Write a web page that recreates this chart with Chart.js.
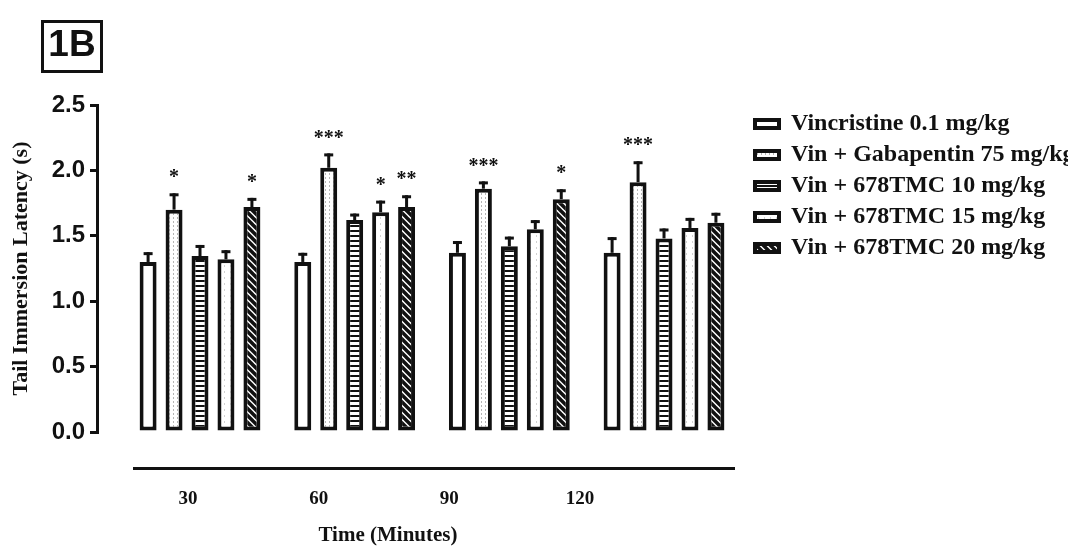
<!DOCTYPE html>
<html>
<head>
<meta charset="utf-8">
<script src="https://cdn.jsdelivr.net/npm/chart.js@4.4.1/dist/chart.umd.min.js"></script>
<style>
  html, body { margin: 0; padding: 0; background: #fff; }
  #wrap { position: relative; width: 1080px; height: 555px; }
  #panel {
    position: absolute; left: 41px; top: 20px; width: 56px; height: 47px;
    border: 3px solid #111; color: #111; text-align: center; line-height: 47px;
    font: bold 37px "Liberation Sans", Arial, sans-serif;
  }
  #xtitle {
    position: absolute; left: 288px; top: 522px; width: 200px; text-align: center;
    line-height: 24px; color: #111; font: bold 21px "Liberation Serif", serif;
  }
</style>
</head>
<body>
<div id="wrap">
  <canvas id="chart" width="1080" height="555"></canvas>
  <div id="panel">1B</div>
  <div id="xtitle">Time (Minutes)</div>
</div>
<script>
// time points (minutes) and their tick labels
const minutes = [30, 60, 90, 120];
const timeLabels = ['30', '60', '90', '120'];

const seriesNames = [
  'Vincristine 0.1 mg/kg',
  'Vin + Gabapentin 75 mg/kg',
  'Vin + 678TMC 10 mg/kg',
  'Vin + 678TMC 15 mg/kg',
  'Vin + 678TMC 20 mg/kg'
];

// mean latency (s)
const vincristine = [1.30, 1.30, 1.37, 1.37];
const gabapentin = [1.70, 2.02, 1.86, 1.91];
const tmc10 = [1.345, 1.62, 1.42, 1.48];
const tmc15 = [1.32, 1.68, 1.55, 1.56];
const tmc20 = [1.72, 1.72, 1.78, 1.60];

// SEM (upper error bar only)
const vincristineErr = [0.075, 0.07, 0.09, 0.12];
const gabapentinErr = [0.125, 0.11, 0.056, 0.16];
const tmc10Err = [0.085, 0.05, 0.074, 0.076];
const tmc15Err = [0.07, 0.089, 0.07, 0.077];
const tmc20Err = [0.07, 0.09, 0.076, 0.076];

// significance marks over the bars
const vincristineSig = ['', '', '', ''];
const gabapentinSig = ['*', '***', '***', '***'];
const tmc10Sig = ['', '', '', ''];
const tmc15Sig = ['', '*', '', ''];
const tmc20Sig = ['*', '**', '*', ''];

const seriesValues = [vincristine, gabapentin, tmc10, tmc15, tmc20];
const seriesErrors = [vincristineErr, gabapentinErr, tmc10Err, tmc15Err, tmc20Err];
const seriesSig = [vincristineSig, gabapentinSig, tmc10Sig, tmc15Sig, tmc20Sig];

function makePattern(w, h, draw) {
  const c = document.createElement('canvas');
  c.width = w;
  c.height = h;
  const g = c.getContext('2d');
  g.fillStyle = '#fff';
  g.fillRect(0, 0, w, h);
  draw(g);
  return g.createPattern(c, 'repeat');
}

const fills = [
  '#ffffff',
  makePattern(4, 4, g => { g.fillStyle = '#b5b5b5'; g.fillRect(1, 1, 1, 2); }),
  makePattern(4, 5, g => { g.fillStyle = '#111'; g.fillRect(0, 0, 4, 2); }),
  makePattern(6, 6, g => { g.fillStyle = '#d2d2d2'; g.fillRect(2, 1, 1, 2); }),
  makePattern(7, 7, g => {
    g.strokeStyle = '#111';
    g.lineWidth = 3.5;
    g.beginPath();
    g.moveTo(-1, -1); g.lineTo(8, 8);
    g.moveTo(-8, -1); g.lineTo(1, 8);
    g.moveTo(6, -1); g.lineTo(15, 8);
    g.stroke();
  })
];

// error bars, asterisks and the detached x axis line
const extras = {
  id: 'extras',
  afterDatasetsDraw(chart) {
    const ctx = chart.ctx;
    const y = chart.scales.y;
    ctx.save();
    ctx.fillStyle = '#111';
    ctx.font = 'bold 20px "Liberation Serif"';
    ctx.textAlign = 'center';
    ctx.textBaseline = 'middle';
    chart.data.datasets.forEach((ds, i) => {
      chart.getDatasetMeta(i).data.forEach((bar, j) => {
        const top = y.getPixelForValue(seriesValues[i][j] + seriesErrors[i][j]);
        ctx.fillRect(bar.x - 1.5, top, 3, bar.y - top);
        ctx.fillRect(bar.x - 4.5, top, 9, 3);
        if (seriesSig[i][j]) {
          ctx.fillText(seriesSig[i][j], bar.x, top - 15);
        }
      });
    });
    const a = chart.chartArea;
    ctx.fillRect(a.left + 36, a.bottom + 35, a.right - a.left - 49, 3);
    ctx.restore();
  }
};

const tickFont = { family: 'Liberation Serif', size: 19, weight: 'bold' };

new Chart(document.getElementById('chart'), {
  type: 'bar',
  data: {
    labels: minutes,
    datasets: seriesValues.map((vals, i) => ({
      label: seriesNames[i],
      data: vals,
      backgroundColor: fills[i],
      borderColor: '#111',
      borderWidth: 4,
      borderSkipped: false,
      barPercentage: 0.654,
      categoryPercentage: 0.839
    }))
  },
  options: {
    responsive: false,
    devicePixelRatio: 1,
    animation: false,
    layout: { padding: { top: 105, right: 12, left: 0, bottom: 0 } },
    plugins: {
      tooltip: { enabled: false },
      legend: {
        position: 'right',
        align: 'start',
        maxWidth: 320,
        labels: {
          boxWidth: 24,
          boxHeight: 8,
          padding: 7,
          color: '#111',
          font: { family: 'Liberation Serif', size: 24, weight: 'bold' }
        }
      }
    },
    scales: {
      x: {
        type: 'linear',
        offset: false,
        min: 10.02,
        max: 136.29,
        display: false,
        afterBuildTicks: s => { s.ticks = minutes.map(v => ({ value: v })); }
      },
      x2: {
        type: 'linear',
        position: 'bottom',
        offset: false,
        min: 9.11,
        max: 158.57,
        grid: { display: false, drawTicks: false },
        border: { display: false },
        afterBuildTicks: s => { s.ticks = minutes.map(v => ({ value: v })); },
        afterFit: s => { s.height = 123; },
        ticks: {
          autoSkip: false,
          maxRotation: 0,
          padding: 56,
          color: '#111',
          font: tickFont,
          callback: (v, i) => timeLabels[i]
        }
      },
      y: {
        min: 0,
        max: 2.5,
        afterFit: s => { s.width = 97; },
        ticks: {
          stepSize: 0.5,
          padding: 5,
          color: '#111',
          font: { family: 'Liberation Sans', size: 24, weight: 'bold' },
          callback: v => v.toFixed(1)
        },
        grid: { drawOnChartArea: false, drawTicks: true, tickLength: 7, color: '#111', lineWidth: 3 },
        border: { display: true, color: '#111', width: 3 },
        title: {
          display: true,
          text: 'Tail Immersion Latency (s)',
          color: '#111',
          font: { family: 'Liberation Serif', size: 22, weight: 'bold' },
          padding: { top: 8, bottom: 0 }
        }
      }
    }
  },
  plugins: [extras]
});
</script>
</body>
</html>
